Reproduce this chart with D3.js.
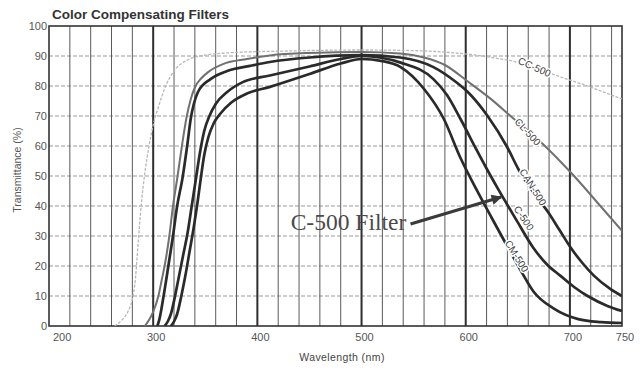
<!DOCTYPE html>
<html>
<head>
<meta charset="utf-8">
<script src="https://cdn.jsdelivr.net/npm/d3@7"></script>
<style>
  body { margin: 0; background: #fff; }
  svg { display: block; }
</style>
</head>
<body>
<svg id="chart"></svg>
<script>
// transmittance curves, [wavelength nm, transmittance %]
const cc500 = [[263,0],[270,2],[276,5],[280,9],[283,16],[285,25],[287,34],[289,42],[292,51],[296,60],[300,67],[305,73],[312,80],[320,85],[332,88.5],[350,90.3],[380,91.2],[420,91.6],[500,92],[560,91.7],[590,91],[610,90.3],[625,89.5],[645,88.3],[667,86],[691,83],[717,80],[742,76.7],[750,75.7]];
const cl500 = [[292,0],[296,2],[300,4.7],[305,10],[308,15],[311.5,21],[315.5,30],[319,40],[323,49],[328,61],[332,69.5],[336,75.5],[340,79.5],[346,82.5],[353,84.7],[367,87.3],[390,89],[412,90.2],[450,91],[500,91.3],[537,90.8],[560,89.5],[580,87],[602,81.5],[624,75.7],[643,70],[674,60.7],[704,50],[728,40.5],[750,31.7]];
const can500 = [[304,0],[306,2.3],[310,10],[315,21],[319,30],[323,40],[328,49],[333,61],[336,69],[339,74],[343,78],[355,82.3],[371,85],[393,86.7],[412,88],[450,89.5],[500,90.3],[537,89.5],[569,86.3],[590,81.5],[602,78],[621,70],[640,59.5],[651,52],[665,44.5],[679,38],[690,32],[701,26],[712,21],[723,16.8],[739,12.3],[750,10]];
const c500 = [[311,0],[314,1.5],[317,4],[321,10],[325,17],[329,24],[333,31],[337,40],[341,49],[345,58],[349,65],[354,70],[360,74],[371,78],[386,81.3],[412,83.5],[450,86.5],[480,89],[500,90],[537.5,87.8],[569,82.3],[582,77],[595,69],[610,59],[620,52.5],[631,45.7],[648,35.7],[665,26],[678,20.5],[691,16.7],[704,13],[717,10],[736,6.7],[750,5]];
const cm500 = [[317,0],[320,1.5],[323,4],[327,10],[331,17],[335,25],[339,33],[342.5,41],[346,50],[349,57],[353,63],[358,67.5],[365,71],[375,74.5],[390,77.5],[412,79.7],[450,84],[480,87.5],[500,89],[520,88.3],[537.5,86.3],[560,79],[579,69],[595,56],[610,45.7],[625,36],[640,26.5],[652,19],[665,11.5],[685,5.7],[708,2.3],[730,1.3],[750,1]];

const seriesNames = ["CC-500","CL-500","CAN-500","C-500","CM-500"];
const seriesData = [cc500, cl500, can500, c500, cm500];
// label anchor [nm, %] and rotation
const labelPos = [[666,86.3],[659.5,64.7],[664.5,46.3],[655.8,36],[649,23.3]];
const labelRot = [24,47,58,56,58];

const xTicks = [200,300,400,500,600,700,750];
const yTicks = [0,10,20,30,40,50,60,70,80,90,100];

const width = 640, height = 377;
const marginLeft = 49, marginRight = 18, marginTop = 26, marginBottom = 51;

const x = d3.scaleLinear([200,750],[marginLeft, width - marginRight]);
const y = d3.scaleLinear([0,100],[height - marginBottom, marginTop]);

const svg = d3.select("#chart")
  .attr("width", width)
  .attr("height", height)
  .attr("viewBox", [0,0,width,height]);

svg.append("rect").attr("width", width).attr("height", height).attr("fill", "#fff");

// title
svg.append("text")
  .attr("x", 52).attr("y", 19)
  .attr("font-family", "Liberation Sans, Arial, sans-serif")
  .attr("font-weight", "bold")
  .attr("font-size", 13.5)
  .attr("fill", "#333")
  .text("Color Compensating Filters");

// horizontal grid (dashed light)
svg.append("g")
  .selectAll("line")
  .data(yTicks.filter(d => d > 0 && d < 100))
  .join("line")
    .attr("x1", x(200)).attr("x2", x(750))
    .attr("y1", d => y(d)).attr("y2", d => y(d))
    .attr("stroke", "#999")
    .attr("stroke-width", 1)
    .attr("stroke-dasharray", "4,2");

// vertical grid, every 20 nm, heavier each 100 nm
const vLines = d3.range(220, 750, 20).concat([300,400,500,600,700]).filter((d,i,a) => a.indexOf(d) === i);
svg.append("g")
  .selectAll("line")
  .data(vLines)
  .join("line")
    .attr("x1", d => x(d)).attr("x2", d => x(d))
    .attr("y1", y(0)).attr("y2", y(100))
    .attr("stroke", d => d % 100 === 0 ? "#2e2e2e" : "#5a5a5a")
    .attr("stroke-width", d => d % 100 === 0 ? 2 : 1);

// frame
svg.append("rect")
  .attr("x", x(200)).attr("y", y(100))
  .attr("width", x(750) - x(200)).attr("height", y(0) - y(100))
  .attr("fill", "none")
  .attr("stroke", "#333")
  .attr("stroke-width", 1.6);

// axes labels
const tickFont = "Liberation Sans Narrow, Arial Narrow, Liberation Sans, sans-serif";
svg.append("g")
  .selectAll("text")
  .data(yTicks)
  .join("text")
    .attr("x", marginLeft - 2)
    .attr("y", d => y(d) + 4)
    .attr("text-anchor", "end")
    .attr("font-family", tickFont)
    .attr("font-size", 11)
    .attr("fill", "#555")
    .text(d => d);

svg.append("g")
  .selectAll("text")
  .data(xTicks)
  .join("text")
    .attr("x", d => d === 200 ? x(d) + 4 : x(d) + 3)
    .attr("y", y(0) + 15)
    .attr("text-anchor", d => d === 200 ? "start" : "middle")
    .attr("font-family", tickFont)
    .attr("font-size", 11)
    .attr("fill", "#555")
    .text(d => d);

svg.append("text")
  .attr("x", 342).attr("y", 361)
  .attr("text-anchor", "middle")
  .attr("font-family", "Liberation Sans, Arial, sans-serif")
  .attr("font-size", 10.5)
  .attr("letter-spacing", 0.4)
  .attr("fill", "#444")
  .text("Wavelength  (nm)");

svg.append("text")
  .attr("transform", "translate(21,170) rotate(-90)")
  .attr("text-anchor", "middle")
  .attr("font-family", "Liberation Sans, Arial, sans-serif")
  .attr("font-size", 10.5)
  .attr("fill", "#555")
  .text("Transmittance  (%)");

// curves
svg.append("clipPath").attr("id", "plot")
  .append("rect")
  .attr("x", x(200)).attr("y", y(100) - 2)
  .attr("width", x(750) - x(200)).attr("height", y(0) - y(100) + 2);

const line = d3.line()
  .x(d => x(d[0]))
  .y(d => y(d[1]))
  .curve(d3.curveMonotoneX);

const strokes = ["#b8b8b8","#707070","#2a2a2a","#2a2a2a","#2a2a2a"];
const widths = [1.3, 2, 2.7, 2.7, 2.7];

svg.append("g")
  .attr("clip-path", "url(#plot)")
  .attr("fill", "none")
  .selectAll("path")
  .data(seriesData)
  .join("path")
    .attr("stroke", (d,i) => strokes[i])
    .attr("stroke-width", (d,i) => widths[i])
    .attr("stroke-dasharray", (d,i) => i === 0 ? "3,1.5" : null)
    .attr("stroke-linejoin", "round")
    .attr("d", line);

// curve labels
svg.append("g")
  .selectAll("text")
  .data(seriesNames)
  .join("text")
    .attr("transform", (d,i) => `translate(${x(labelPos[i][0])},${y(labelPos[i][1])}) rotate(${labelRot[i]})`)
    .attr("text-anchor", "middle")
    .attr("dy", "0.35em")
    .attr("font-family", "Liberation Sans, Arial, sans-serif")
    .attr("font-size", 10)
    .attr("fill", "#444")
    .attr("stroke", "#fff")
    .attr("stroke-width", 3)
    .attr("paint-order", "stroke")
    .text(d => d);

// annotation
const noteText = "C-500 Filter";
const notePos = [432, 32];
const arrowFrom = [547, 34];
const arrowTo = [634, 43];

svg.append("defs").append("marker")
  .attr("id", "arrow")
  .attr("viewBox", "0 0 10 10")
  .attr("refX", 9).attr("refY", 5)
  .attr("markerWidth", 4.5).attr("markerHeight", 3.5)
  .attr("markerUnits", "strokeWidth")
  .attr("orient", "auto")
  .append("path")
    .attr("d", "M0,0L10,5L0,10z")
    .attr("fill", "#3a3a3a");

svg.append("line")
  .attr("x1", x(arrowFrom[0])).attr("y1", y(arrowFrom[1]))
  .attr("x2", x(arrowTo[0])).attr("y2", y(arrowTo[1]))
  .attr("stroke", "#3a3a3a")
  .attr("stroke-width", 3)
  .attr("marker-end", "url(#arrow)");

svg.append("text")
  .attr("x", x(notePos[0])).attr("y", y(notePos[1]))
  .attr("font-family", "Liberation Serif, Times New Roman, serif")
  .attr("font-size", 23.5)
  .attr("fill", "#4a4a4a")
  .text(noteText);
</script>
</body>
</html>
